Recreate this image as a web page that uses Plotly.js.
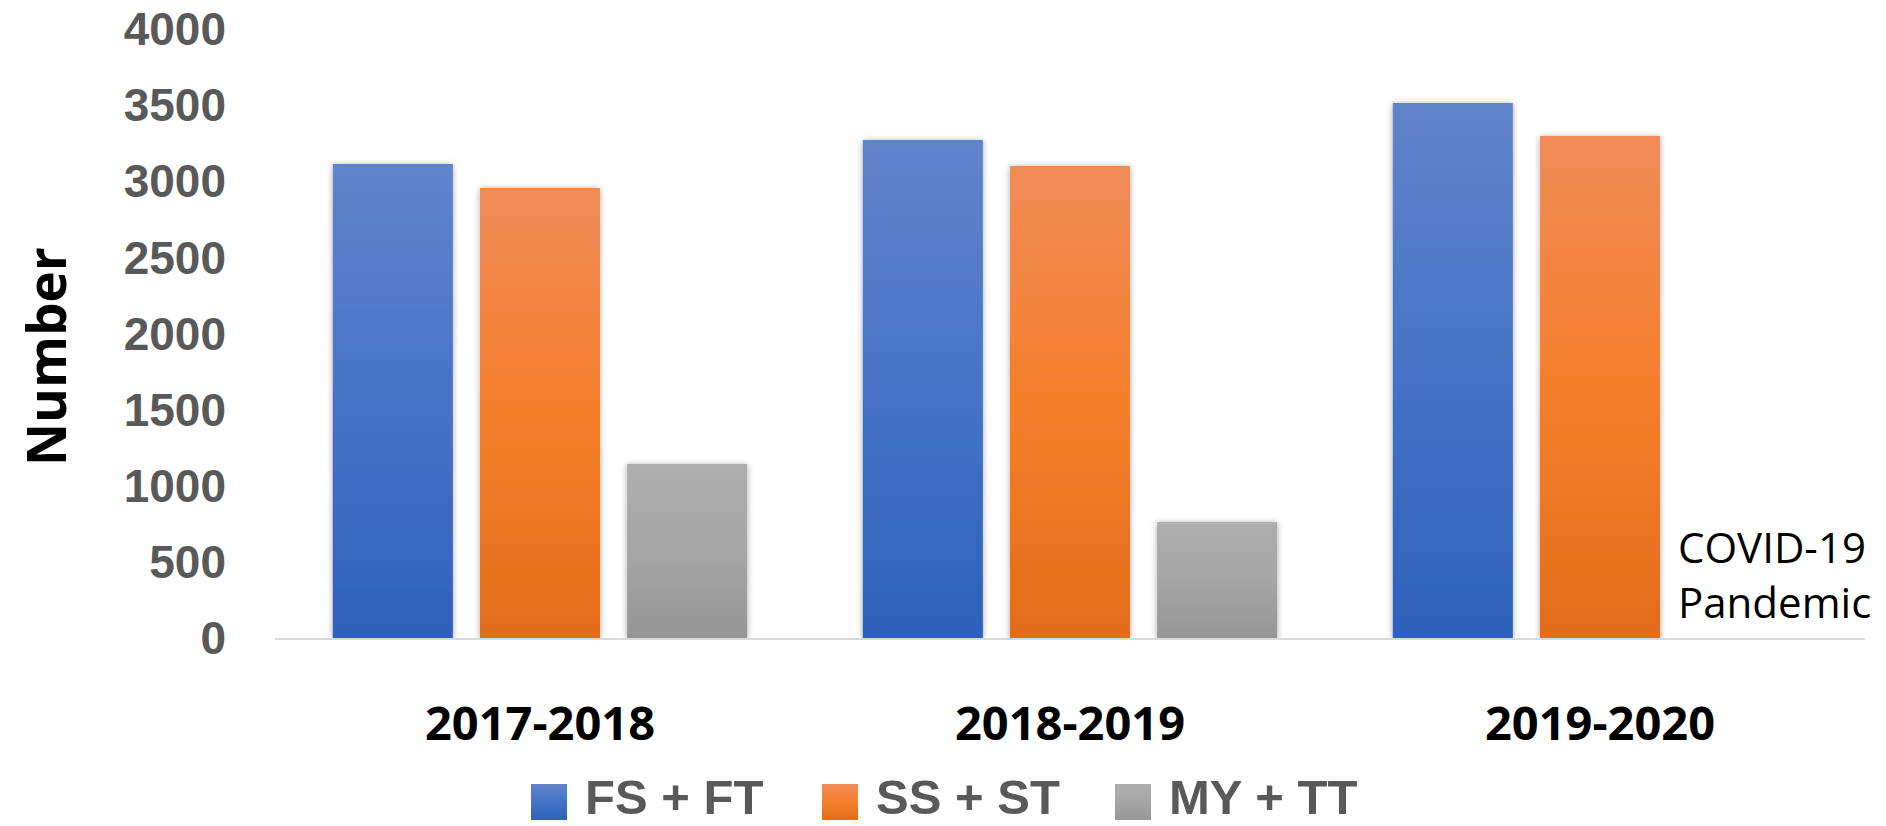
<!DOCTYPE html>
<html>
<head>
<meta charset="utf-8">
<script src="https://cdn.plot.ly/plotly-3.0.1.min.js"></script>
<style>
  html, body { margin: 0; padding: 0; background: #ffffff; }
  #chart { width: 1886px; height: 826px; }
</style>
</head>
<body>
<div id="chart"></div>
<script>
// ---- data ----
const categories = ['2017-2018', '2018-2019', '2019-2020'];
const seriesNames = ['FS + FT', 'SS + ST', 'MY + TT'];
const fsft = [3114, 3272, 3515];
const ssst = [2957, 3101, 3298];
const mytt = [1143, 762, null];
const yTicks = [0, 500, 1000, 1500, 2000, 2500, 3000, 3500, 4000];
const yTitle = 'Number';
const noteText = ['COVID-19', 'Pandemic'];

// ---- styling ----
const W = 1886, H = 826;
const M = { l: 275, r: 21, t: 29, b: 188 };
const PW = W - M.l - M.r, PH = H - M.t - M.b;
const px2x = p => (p - M.l) / PW;
const px2y = p => (H - M.b - p) / PH;

const baseColors = ['#4472C4', '#F07D2E', '#A5A5A5'];
const gradStops = [
  ['#6184CB', '#4673C6', '#2E61BA'],
  ['#F08B59', '#F57F2B', '#E36C1A'],
  ['#AEAEAE', '#A6A6A6', '#969696']
];
const FONT = '"Open Sans", "Liberation Sans", sans-serif';
const LEGFONT = '"Liberation Sans", Arial, sans-serif';

const seriesValues = [fsft, ssst, mytt];
const traces = seriesValues.map((vals, i) => ({
  type: 'bar',
  name: seriesNames[i],
  x: categories,
  y: vals,
  marker: { color: baseColors[i], line: { width: 0 } },
  showlegend: false,
  hoverinfo: 'none'
}));

// manual legend (large square swatches like the original)
const legendSquareLeft = [531, 822, 1115];
const sq = 36, legTop = 784;
const shapes = seriesNames.map((n, i) => ({
  type: 'rect', xref: 'paper', yref: 'paper',
  x0: px2x(legendSquareLeft[i]), x1: px2x(legendSquareLeft[i] + sq),
  y0: px2y(legTop + sq), y1: px2y(legTop),
  fillcolor: baseColors[i], line: { width: 0 }, layer: 'above'
}));
const annotations = seriesNames.map((n, i) => ({
  xref: 'paper', yref: 'paper',
  x: px2x(legendSquareLeft[i] + sq + 17), y: px2y(797),
  xanchor: 'left', yanchor: 'middle', borderpad: 0,
  text: '<b>' + n + '</b>', showarrow: false,
  font: { family: LEGFONT, size: 49, color: '#595959' }
}));
annotations.push({
  xref: 'paper', yref: 'paper',
  x: px2x(45), y: px2y(357), xanchor: 'center', yanchor: 'middle',
  textangle: -90, text: '<b>' + yTitle + '</b>', showarrow: false,
  font: { family: FONT, size: 53, color: '#000000' }
});
annotations.push({
  xref: 'paper', yref: 'paper',
  x: px2x(1676), y: px2y(574), xanchor: 'left', yanchor: 'middle',
  align: 'left', text: noteText.join('<br>'), showarrow: false,
  font: { family: FONT, size: 42, color: '#000000' }
});

const layout = {
  width: W, height: H,
  margin: M,
  paper_bgcolor: '#ffffff', plot_bgcolor: '#ffffff',
  barmode: 'group', bargap: 0.167, bargroupgap: 0.184,
  showlegend: false,
  xaxis: {
    type: 'category',
    showline: true, linecolor: '#D9D9D9', linewidth: 2,
    ticks: '', showgrid: false, zeroline: false,
    ticklabelstandoff: 44,
    tickfont: { family: FONT, size: 47, color: '#000000', weight: 'bold' }
  },
  yaxis: {
    range: [0, 4001], tickvals: yTicks, ticktext: yTicks.map(String),
    showline: false, showgrid: false, zeroline: false, ticks: '',
    ticklabelstandoff: 48, ticklabeloverflow: 'allow',
    tickfont: { family: LEGFONT, size: 46, color: '#595959', weight: 'bold' }
  },
  shapes: shapes,
  annotations: annotations
};

Plotly.newPlot('chart', traces, layout, { staticPlot: true, displayModeBar: false }).then(gd => {
  // vertical gradient fills + soft shadow, like the original office chart
  const svg = gd.querySelector('svg.main-svg');
  const ns = 'http://www.w3.org/2000/svg';
  let defs = svg.querySelector('defs');
  if (!defs) { defs = document.createElementNS(ns, 'defs'); svg.insertBefore(defs, svg.firstChild); }
  const filt = document.createElementNS(ns, 'filter');
  filt.setAttribute('id', 'barShadow');
  filt.setAttribute('x', '-20%'); filt.setAttribute('y', '-5%');
  filt.setAttribute('width', '140%'); filt.setAttribute('height', '110%');
  const ds = document.createElementNS(ns, 'feDropShadow');
  ds.setAttribute('dx', '0'); ds.setAttribute('dy', '1');
  ds.setAttribute('stdDeviation', '3'); ds.setAttribute('flood-opacity', '0.35');
  filt.appendChild(ds); defs.appendChild(filt);
  gradStops.forEach((stops, i) => {
    const g = document.createElementNS(ns, 'linearGradient');
    g.setAttribute('id', 'grad' + i);
    g.setAttribute('x1', '0'); g.setAttribute('y1', '0');
    g.setAttribute('x2', '0'); g.setAttribute('y2', '1');
    stops.forEach((c, k) => {
      const s = document.createElementNS(ns, 'stop');
      s.setAttribute('offset', (k / (stops.length - 1) * 100) + '%');
      s.setAttribute('stop-color', c);
      g.appendChild(s);
    });
    defs.appendChild(g);
  });
  const barTraces = gd.querySelectorAll('.barlayer .trace');
  barTraces.forEach((t, i) => {
    t.querySelectorAll('.point path').forEach(p => {
      p.style.fill = 'url(#grad' + i + ')';
      p.setAttribute('filter', 'url(#barShadow)');
    });
  });
  const legShapes = gd.querySelectorAll('.layer-above .shapelayer path');
  legShapes.forEach((p, i) => {
    if (i < gradStops.length) p.style.fill = 'url(#grad' + i + ')';
  });
});
</script>
</body>
</html>
